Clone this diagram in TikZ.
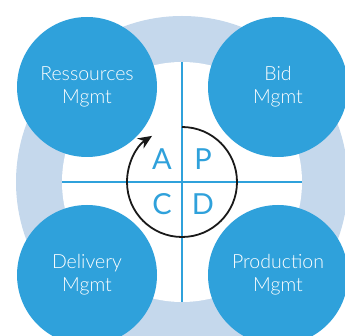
\documentclass[tikz,border=0pt]{standalone}
\usepackage{fontspec}
\setmainfont{Lato}[UprightFont=* Light]
\newfontfamily\letterfont{Lato}
\usetikzlibrary{arrows.meta}
\definecolor{mblue}{RGB}{47,161,219}
\definecolor{ringblue}{RGB}{197,216,236}
\begin{document}
\begin{tikzpicture}[x=1pt,y=1pt,
  area/.style={circle, fill=mblue, minimum size=140pt, inner sep=0pt, text=white, align=center,
    font=\fontsize{19.5}{23}\selectfont},
  letter/.style={text=mblue, inner sep=0pt, anchor=base, font=\letterfont\fontsize{29}{29}\selectfont},
  cross/.style={mblue, line width=1.2pt},
  cycle/.style={black!90, line width=1.8pt, -{Stealth[length=14pt,width=12pt]}}]
\useasboundingbox (0,0) rectangle (345,-336);
\clip (0,0) rectangle (345,-336);
\fill[ringblue] (182,-182) circle (166);
\fill[white] (182,-182) circle (120);
\coordinate (vt) at (182,-62);
\coordinate (vb) at (182,-302);
\coordinate (hl) at (62,-182);
\coordinate (hr) at (302,-182);
\draw[cross] (vt) -- (vb);
\draw[cross] (hl) -- (hr);
\draw[cycle] (182,-127) arc[start angle=90, end angle=-237, radius=55];
\node[letter] (A) at (162,-170) {A};
\node[letter] (P) at (203,-170) {P};
\node[letter] (C) at (162,-215) {C};
\node[letter] (D) at (203,-215) {D};
\node[area] (res) at (87,-87) {Ressources\\Mgmt};
\node[area] (bid) at (278,-87) {Bid\\Mgmt};
\node[area] (del) at (87,-275) {Delivery\\Mgmt};
\node[area] (pro) at (278,-275) {Production\\Mgmt};
\end{tikzpicture}
\end{document}
